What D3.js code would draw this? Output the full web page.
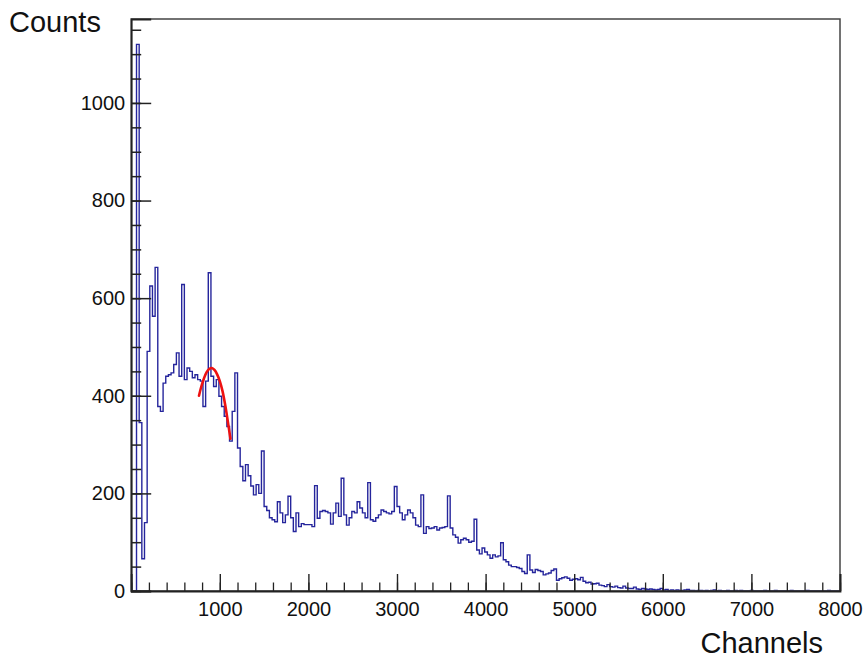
<!DOCTYPE html>
<html>
<head>
<meta charset="utf-8">
<script src="https://cdn.jsdelivr.net/npm/d3@7"></script>
<style>
  html, body { margin: 0; padding: 0; background: #fff; }
  svg { display: block; }
  text { font-family: "Liberation Sans", Arial, Helvetica, sans-serif; fill: #111; }
</style>
</head>
<body>
<svg id="chart" width="864" height="658"></svg>
<script>
// Histogram contents: counts per 30-channel bin, starting at channel 0
const binWidth = 30;
const counts = [
  0, 0, 1120, 345, 66, 140, 491, 625, 563, 663,
  378, 368, 426, 440, 443, 447, 464, 488, 440, 628,
  433, 457, 450, 437, 443, 433, 430, 378, 430, 652,
  440, 419, 433, 399, 378, 358, 337, 307, 368, 447,
  293, 255, 226, 259, 236, 215, 197, 218, 200, 287,
  173, 165, 150, 146, 142, 183, 160, 140, 156, 194,
  150, 122, 160, 132, 138, 136, 136, 136, 132, 216,
  149, 163, 165, 163, 160, 137, 160, 180, 153, 231,
  156, 135, 150, 163, 160, 183, 170, 160, 150, 222,
  146, 143, 150, 156, 166, 163, 160, 158, 163, 214,
  173, 160, 146, 156, 166, 160, 150, 135, 132, 197,
  118, 132, 128, 129, 132, 125, 129, 130, 132, 195,
  129, 115, 110, 98, 105, 108, 105, 100, 102, 147,
  84, 76, 88, 80, 74, 67, 74, 70, 72, 99,
  64, 60, 53, 50, 50, 48, 46, 40, 36, 74,
  43, 38, 44, 42, 40, 33, 35, 37, 42, 45,
  22, 25, 27, 29, 26, 22, 24, 25, 23, 28,
  20, 17, 18, 14, 15, 16, 12, 11, 9, 13,
  9, 8, 10, 7, 6, 10, 6, 5, 5, 8,
  4, 3, 5, 4, 3, 4, 3, 2, 3, 5,
  2, 3, 1, 2, 1, 2, 1, 1, 2, 3,
  1, 1, 0, 1, 1, 0, 1, 0, 1, 2,
  0, 1, 0, 0, 1, 0, 0, 1, 0, 1,
  0, 0, 0, 1, 0, 0, 0, 0, 1, 0,
  0, 0, 1, 0, 0, 0, 0, 0, 1, 0,
  0, 0, 0, 0, 1, 0, 0, 0, 0, 0,
  0, 0, 1, 0, 0, 0, 0
];

// Fitted peak curve, sampled points (channel, counts)
const fitChannels = [765, 790, 820, 850, 880, 910, 940, 970, 1000, 1030, 1060, 1090, 1120];
const fitValues   = [400, 418, 435, 448, 455, 457, 453, 444, 430, 410, 382, 348, 312];

// Axis ticks
const yMajorTicks = [0, 200, 400, 600, 800, 1000];
const yMinorTicks = d3.range(0, 1151, 50);
const xMajorTicks = [1000, 2000, 3000, 4000, 5000, 6000, 7000, 8000];
const xMinorTicks = d3.range(0, 8001, 200);

const xLabel = "Channels";
const yLabel = "Counts";

const svg = d3.select("#chart");
const frame = { left: 131.2, right: 840, top: 19, bottom: 591 };

const x = d3.scaleLinear().domain([0, 8000]).range([frame.left, frame.right]);
const y = d3.scaleLinear().domain([0, 1172]).range([frame.bottom, frame.top]);

svg.append("rect").attr("width", 864).attr("height", 658).attr("fill", "#fff");

svg.append("defs").append("clipPath").attr("id", "plotclip")
  .append("rect")
  .attr("x", frame.left).attr("y", frame.top - 2)
  .attr("width", frame.right - frame.left).attr("height", frame.bottom - frame.top + 2);

// Step outline of the histogram
const steps = counts.map((c, i) => [i * binWidth, c]);
steps.unshift([0, 0]);
steps.push([counts.length * binWidth, counts[counts.length - 1]]);
steps.push([counts.length * binWidth, 0]);

const stepLine = d3.line()
  .x(d => x(d[0]))
  .y(d => y(d[1]))
  .curve(d3.curveStepAfter);

svg.append("path")
  .attr("clip-path", "url(#plotclip)")
  .attr("d", stepLine(steps))
  .attr("fill", "none")
  .attr("stroke", "#25259c")
  .attr("stroke-width", 1.4)
  .attr("stroke-linejoin", "miter");

// Fit curve
const fitPts = fitChannels.map((c, i) => [c, fitValues[i]]);
svg.append("path")
  .attr("d", d3.line().x(d => x(d[0])).y(d => y(d[1])).curve(d3.curveCatmullRom)(fitPts))
  .attr("fill", "none")
  .attr("stroke", "#ee1111")
  .attr("stroke-width", 2.6)
  .attr("stroke-linecap", "round");

// Frame
svg.append("rect")
  .attr("x", frame.left).attr("y", frame.top)
  .attr("width", frame.right - frame.left).attr("height", frame.bottom - frame.top)
  .attr("fill", "none")
  .attr("stroke", "#444")
  .attr("stroke-width", 1.5);

// Y axis: minor and major ticks pointing inward
svg.append("g")
  .attr("transform", `translate(${frame.left},0)`)
  .call(d3.axisLeft(y).tickValues(yMinorTicks).tickSize(-10).tickFormat(""))
  .call(g => g.select(".domain").remove())
  .call(g => g.selectAll(".tick line").attr("stroke", "#222").attr("stroke-width", 1.5));

svg.append("g")
  .attr("transform", `translate(${frame.left},0)`)
  .call(d3.axisLeft(y).tickValues(yMajorTicks).tickSize(-20).tickPadding(6).tickFormat(d3.format("d")))
  .call(g => g.select(".domain").attr("stroke", "#222").attr("stroke-width", 1.8))
  .call(g => g.selectAll(".tick line").attr("stroke", "#222").attr("stroke-width", 1.5))
  .call(g => g.selectAll(".tick text")
    .attr("font-size", 20)
    .attr("font-family", "'Liberation Sans', Arial, sans-serif")
    .attr("fill", "#111"));

// X axis: ticks pointing upward
svg.append("g")
  .attr("transform", `translate(0,${frame.bottom})`)
  .call(d3.axisBottom(x).tickValues(xMinorTicks).tickSize(-8.5).tickFormat(""))
  .call(g => g.select(".domain").remove())
  .call(g => g.selectAll(".tick line").attr("stroke", "#222").attr("stroke-width", 1.3));

svg.append("g")
  .attr("transform", `translate(0,${frame.bottom})`)
  .call(d3.axisBottom(x).tickValues(xMajorTicks).tickSize(-17).tickPadding(11).tickFormat(d3.format("d")))
  .call(g => g.select(".domain").attr("stroke", "#222").attr("stroke-width", 1.8))
  .call(g => g.selectAll(".tick line").attr("stroke", "#222").attr("stroke-width", 1.4))
  .call(g => g.selectAll(".tick text")
    .attr("font-size", 20)
    .attr("font-family", "'Liberation Sans', Arial, sans-serif")
    .attr("fill", "#111"));

// Axis titles
svg.append("text")
  .attr("x", 823).attr("y", 653)
  .attr("text-anchor", "end")
  .attr("font-size", 29)
  .text(xLabel);

svg.append("text")
  .attr("x", 9).attr("y", 32)
  .attr("text-anchor", "start")
  .attr("font-size", 29)
  .text(yLabel);
</script>
</body>
</html>
